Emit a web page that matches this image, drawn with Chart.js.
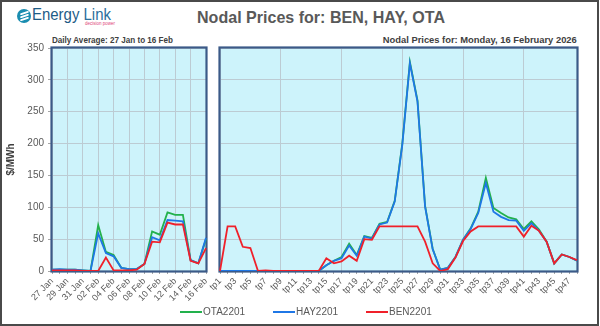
<!DOCTYPE html>
<html><head><meta charset="utf-8">
<script src="https://cdn.jsdelivr.net/npm/chart.js@4/dist/chart.umd.min.js"></script>
<style>
html,body{margin:0;padding:0;background:#fff;width:600px;height:326px;overflow:hidden;}
#frame{position:absolute;left:0;top:0;width:599px;height:326px;box-sizing:border-box;border:2px solid #4a4a4a;}
.t{position:absolute;white-space:nowrap;line-height:1;font-family:"Liberation Sans",sans-serif;}
.fit{transform-origin:0 0;}
.fitr{transform-origin:100% 0;}
canvas{position:absolute;}
.lg{position:absolute;height:2px;width:22px;top:311px;}
.lt{position:absolute;top:307px;font-family:"Liberation Sans",sans-serif;font-size:10px;color:#595959;line-height:1;}
</style></head>
<body>
<div id="frame"></div>
<div style="position:absolute;left:17px;top:9px;width:14px;height:14px;border-radius:50%;background:#1a8db0;overflow:hidden;">
  <div style="position:absolute;left:3px;top:3px;width:9px;height:2px;border-radius:1px;background:#fff;transform:rotate(-18deg);"></div>
  <div style="position:absolute;left:3px;top:6px;width:9px;height:2px;border-radius:1px;background:#fff;transform:rotate(-18deg);"></div>
  <div style="position:absolute;left:3px;top:9px;width:9px;height:2px;border-radius:1px;background:#fff;transform:rotate(-18deg);"></div>
</div>
<div class="t fit" data-w="79" style="left:32px;top:7px;font-size:16px;color:#1d5b86;">Energy <span style="color:#2a6f9c">Link</span></div>
<div class="t" style="left:85px;top:22px;font-size:4.5px;color:#e0457a;">decision power</div>
<div class="t fit" data-w="248" style="left:197px;top:9px;font-size:17px;font-weight:bold;color:#595959;">Nodal Prices for: BEN, HAY, OTA</div>
<div class="t fit" data-w="121" style="left:52px;top:34.5px;font-size:9.5px;font-weight:bold;color:#404040;">Daily Average: 27 Jan to 16 Feb</div>
<div class="t fitr" data-w="194" style="right:23px;top:34.5px;font-size:9.5px;font-weight:bold;color:#404040;">Nodal Prices for: Monday, 16 February 2026</div>

<canvas id="c1" width="215" height="296" style="left:0;top:30px;width:215px;height:296px;"></canvas>
<canvas id="c2" width="398" height="296" style="left:200px;top:30px;width:398px;height:296px;"></canvas>

<div class="lg" style="left:180px;background:#22b14c;"></div><div class="lt" style="left:203px;">OTA2201</div>
<div class="lg" style="left:273px;background:#1f77e6;"></div><div class="lt" style="left:296px;">HAY2201</div>
<div class="lg" style="left:366px;background:#f0202a;"></div><div class="lt" style="left:389px;">BEN2201</div>

<script>
document.querySelectorAll('[data-w]').forEach(el=>{
  const w = el.getBoundingClientRect().width;
  el.style.transform = 'scaleX(' + (parseFloat(el.dataset.w)/w) + ')';
});

const seriesNames = ['OTA2201','HAY2201','BEN2201'];
const days = ['27 Jan','28 Jan','29 Jan','30 Jan','31 Jan','01 Feb','02 Feb','03 Feb','04 Feb','05 Feb','06 Feb','07 Feb','08 Feb','09 Feb','10 Feb','11 Feb','12 Feb','13 Feb','14 Feb','15 Feb','16 Feb'];
const dailyOTA = [2,2,2,2,1,0,72,30,25,5,3,3,11,62,57,92,88,88,17,12,50];
const dailyHAY = [2,3,2,2,1,0,59,28,23,5,3,3,11,53,48,80,79,78,17,12,52];
const dailyBEN = [1,1,1,1,0,0,0,21,1,1,1,2,11,46,45,76,73,73,16,12,36];

const periods = ['tp1','tp2','tp3','tp4','tp5','tp6','tp7','tp8','tp9','tp10','tp11','tp12','tp13','tp14','tp15','tp16','tp17','tp18','tp19','tp20','tp21','tp22','tp23','tp24','tp25','tp26','tp27','tp28','tp29','tp30','tp31','tp32','tp33','tp34','tp35','tp36','tp37','tp38','tp39','tp40','tp41','tp42','tp43','tp44','tp45','tp46','tp47','tp48'];
const tpOTA = [0,0,0,0,0,0,0,0,0,0,0,0,0,0,9,16,22,43,25,55,52,74,77,110,200,328,268,102,35,2,5,22,49,67,93,146,99,91,84,81,66,78,65,46,12,26,22,16];
const tpHAY = [0,0,0,0,0,0,0,0,0,0,0,0,0,0,9,16,20,40,24,54,51,73,76,109,198,326,266,101,34,2,5,22,49,66,91,138,93,85,80,79,63,75,63,46,12,26,22,16];
const tpBEN = [0,70,70,38,36,0,1,0,0,0,0,0,0,0,20,12,15,24,16,50,49,70,70,70,70,70,70,46,12,0,3,21,47,62,70,70,70,70,70,70,54,71,63,46,12,26,22,17];

const yTicks = [0,50,100,150,200,250,300,350];
const colors = ['#22b14c','#1f77e6','#f0202a'];

const panel = {
  id:'panel',
  beforeDraw(chart){
    const {ctx, chartArea:a} = chart;
    ctx.save(); ctx.fillStyle='#cdf3fb';
    ctx.fillRect(a.left,a.top,a.right-a.left,a.bottom-a.top); ctx.restore();
  },
  beforeDatasetsDraw(chart){
    const {ctx, chartArea:a} = chart;
    ctx.save(); ctx.strokeStyle='#3b5a88'; ctx.lineWidth=2.2;
    ctx.strokeRect(a.left-0.5,a.top-0.5,a.right-a.left+1,a.bottom-a.top+1); ctx.restore();
  }
};

function ds(vals){
  return vals.map((v,i)=>({label:seriesNames[i],data:v,borderColor:colors[i],backgroundColor:colors[i],borderWidth:1.8,pointRadius:0,tension:0,order:3-i}));
}
const fontTick = {family:'"Liberation Sans", sans-serif', size:9};

function makeChart(id, labels, vals, gridEvery, showY, pad){
  return new Chart(document.getElementById(id), {
    type:'line',
    data:{labels, datasets:ds(vals)},
    plugins:[panel],
    options:{
      responsive:false, animation:false, devicePixelRatio:1,
      layout:{padding:pad},
      plugins:{legend:{display:false}, tooltip:{enabled:false}},
      scales:{
        x:{
          grid:{color:c=>c.index%gridEvery===0?'#bccbd3':'rgba(0,0,0,0)', tickColor:'#a6a6a6', tickLength:3, lineWidth:1},
          border:{display:false},
          ticks:{autoSkip:false, minRotation:45, maxRotation:45, color:'#595959', font:fontTick, padding:2,
            callback:function(v,i){return i%2===0?this.getLabelForValue(v):'';}},
          afterFit(s){s.height=55; s.paddingLeft=0; s.paddingRight=0;}
        },
        y:{
          min:0,max:350,
          afterBuildTicks(s){s.ticks=yTicks.map(v=>({value:v}));},
          grid:{color:'#bccbd3', tickColor:'#a6a6a6', tickLength:showY?4:0, drawTicks:showY},
          border:{display:false},
          ticks:{display:showY, color:'#595959', font:{family:'"Liberation Sans", sans-serif', size:10}, padding:4},
          title:{display:showY, text:'$/MWh', color:'#404040', font:{family:'"Liberation Sans", sans-serif', size:10, weight:'bold'}, padding:{top:5,bottom:0}},
          afterFit(s){s.width=showY?52:0;}
        }
      }
    }
  });
}
makeChart('c1', days, [dailyOTA,dailyHAY,dailyBEN], 2, true, {top:18,right:9,left:0,bottom:0});
makeChart('c2', periods, [tpOTA,tpHAY,tpBEN], 8, false, {top:18,right:21,left:20,bottom:0});
</script>
</body></html>
